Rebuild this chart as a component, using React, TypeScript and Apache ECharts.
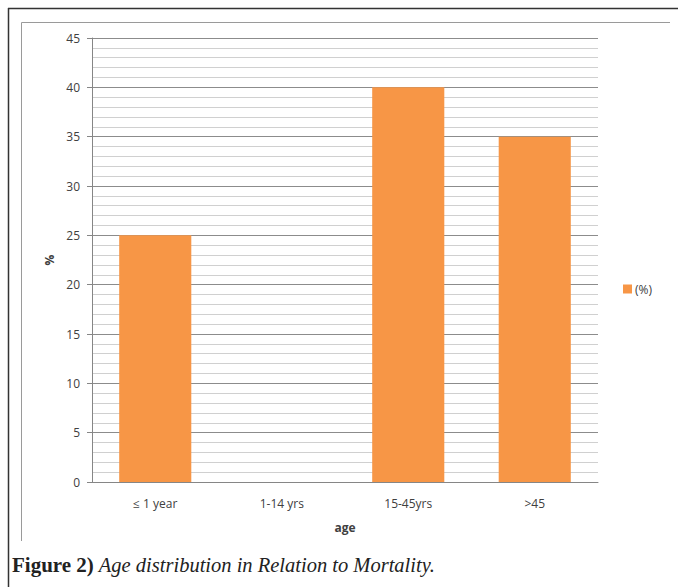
import React, { useEffect, useRef } from "react";
import * as echarts from "echarts";

const categories = ["≤ 1 year", "1-14 yrs", "15-45yrs", ">45"];
const values = [25, 0, 40, 35];
const seriesName = "(%)";
const xAxisTitle = "age";
const yAxisTitle = "%";
const captionBold = "Figure 2)";
const captionItalic = "Age distribution in Relation to Mortality.";

export default function App() {
  const ref = useRef<HTMLDivElement>(null);
  useEffect(() => {
    if (!ref.current) return;
    const chart = echarts.init(ref.current, null, { renderer: "svg" });
    const labelFont = "'Open Sans', 'Liberation Sans', sans-serif";
    const serif = "'Liberation Serif', 'DejaVu Serif', serif";
    chart.setOption({
      animation: false,
      backgroundColor: "#ffffff",
      grid: { left: 92, right: 80, top: 38, bottom: 105, containLabel: false },
      legend: {
        show: true,
        left: 623,
        top: 283,
        padding: 0,
        orient: "vertical",
        itemWidth: 9,
        itemHeight: 9,
        itemGap: 4,
        icon: "rect",
        textStyle: { fontFamily: labelFont, fontSize: 12, color: "#404040", padding: [0, 0, 0, -2] },
        data: [seriesName],
      },
      xAxis: {
        type: "category",
        data: categories,
        name: xAxisTitle,
        nameLocation: "middle",
        nameGap: 39,
        nameTextStyle: { fontFamily: labelFont, fontSize: 12, fontWeight: "bold", color: "#404040" },
        axisLine: { show: true, lineStyle: { color: "#868686", width: 1 } },
        axisTick: { show: false },
        axisLabel: { fontFamily: labelFont, fontSize: 12, color: "#404040", margin: 15 },
        splitLine: { show: false },
      },
      yAxis: {
        type: "value",
        min: 0,
        max: 45,
        interval: 5,
        name: yAxisTitle,
        nameLocation: "middle",
        nameGap: 36,
        nameRotate: 90,
        nameTextStyle: { fontFamily: labelFont, fontSize: 12, fontWeight: "bold", color: "#404040" },
        axisLine: { show: true, lineStyle: { color: "#868686", width: 1 } },
        axisTick: { show: true, length: 5, lineStyle: { color: "#868686" } },
        axisLabel: { fontFamily: labelFont, fontSize: 12, color: "#404040", margin: 12 },
        splitLine: { show: true, lineStyle: { color: "#8c8c8c", width: 1 } },
        minorTick: { show: false, splitNumber: 5 },
        minorSplitLine: { show: true, lineStyle: { color: "#d0d0d0", width: 1 } },
      },
      series: [
        {
          name: seriesName,
          type: "bar",
          data: values,
          barWidth: "57%",
          itemStyle: { color: "#F79646" },
        },
      ],
      graphic: [
        { type: "line", shape: { x1: 8, y1: 8.5, x2: 678, y2: 8.5 }, style: { stroke: "#333333", lineWidth: 1.5 } },
        { type: "line", shape: { x1: 8.5, y1: 8, x2: 8.5, y2: 587 }, style: { stroke: "#333333", lineWidth: 1.5 } },
        { type: "line", shape: { x1: 21.5, y1: 22.5, x2: 670, y2: 22.5 }, style: { stroke: "#9a9a9a", lineWidth: 1 } },
        { type: "line", shape: { x1: 21.5, y1: 22.5, x2: 21.5, y2: 541 }, style: { stroke: "#9a9a9a", lineWidth: 1 } },
        {
          type: "text",
          left: 12,
          top: 554,
          style: {
            text: "{b|" + captionBold + "} {i|" + captionItalic + "}",
            rich: {
              b: { fontFamily: serif, fontWeight: "bold", fontSize: 21, fill: "#222222" },
              i: { fontFamily: serif, fontStyle: "italic", fontSize: 20.5, fill: "#222222" },
            },
            fill: "#222222",
            fontSize: 20,
            fontFamily: serif,
          },
        },
      ],
    });
    return () => chart.dispose();
  }, []);
  return (
    <div
      ref={ref}
      style={{ position: "fixed", left: 0, top: 0, width: 678, height: 587, background: "#fff" }}
    />
  );
}
